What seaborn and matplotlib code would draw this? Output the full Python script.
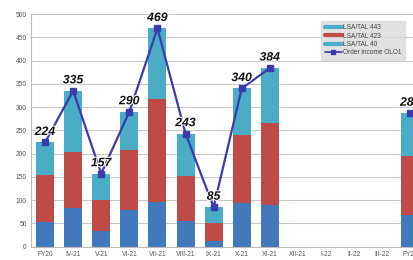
import numpy as np
import matplotlib
matplotlib.use("Agg")
import matplotlib.pyplot as plt
import matplotlib.patheffects as pe
from matplotlib.lines import Line2D
import seaborn as sns

categories = ["FY20", "IV-21", "V-21", "VI-21", "VII-21", "VIII-21", "IX-21",
              "X-21", "XI-21", "XII-21", "I-22", "II-22", "III-22", "FY22"]
lsa_40 = [54, 84, 34, 79, 96, 56, 12, 93, 90, 0, 0, 0, 0, 68]
lsa_423 = [99, 119, 66, 129, 221, 95, 38, 146, 175, 0, 0, 0, 0, 126]
lsa_443 = [71, 132, 57, 82, 152, 92, 35, 101, 119, 0, 0, 0, 0, 93]
order_income = [224, 335, 157, 290, 469, 243, 85, 340, 384,
                np.nan, np.nan, np.nan, np.nan, 287]
series_names = ["LSA/TAL 443", "LSA/TAL 423", "LSA/TAL 40", "Order income OLO1"]

c_blue = "#4279BD"
c_red = "#BE4B48"
c_teal = "#4BACC6"
c_line = "#3B3BAE"

sns.set_theme(style="white")
plt.rcParams["font.family"] = ["Liberation Sans", "DejaVu Sans"]

fig = plt.figure(figsize=(4.14, 2.6), dpi=100)
ax = fig.add_axes([31 / 414, 13.3 / 260, (414 - 31) / 414, 232.7 / 260])

lvl1 = np.array(lsa_40)
lvl2 = lvl1 + np.array(lsa_423)
lvl3 = lvl2 + np.array(lsa_443)

w = 0.64
sns.barplot(x=categories, y=lvl3, color=c_teal, width=w, saturation=1, ax=ax, order=categories)
sns.barplot(x=categories, y=lvl2, color=c_red, width=w, saturation=1, ax=ax, order=categories)
sns.barplot(x=categories, y=lvl1, color=c_blue, width=w, saturation=1, ax=ax, order=categories)
for p in ax.patches:
    p.set_edgecolor("none")

xs = np.arange(len(categories))
ax.plot(xs, order_income, color=c_line, lw=1.6, marker="s", ms=4, zorder=5)

for x, v in zip(xs, order_income):
    if np.isnan(v):
        continue
    ax.annotate(f"{int(v)}", (x, v), xytext=(0, 7.5), textcoords="offset points",
                ha="center", va="center", fontsize=8.8, fontweight="bold",
                fontstyle="italic", color="#111111", zorder=6,
                path_effects=[pe.withStroke(linewidth=1.5, foreground="white")])

ax.set_ylim(0, 500)
ax.set_xlim(-0.5, 13.13)
ax.set_yticks(range(0, 501, 50))
ax.yaxis.grid(True, color="#C8C8C8", lw=0.8)
ax.set_axisbelow(True)
for s in ["top", "right"]:
    ax.spines[s].set_visible(False)
ax.spines["left"].set_color("#BBBBBB")
ax.spines["left"].set_linewidth(0.8)
ax.spines["bottom"].set_color("#BBBBBB")
ax.spines["bottom"].set_linewidth(0.8)
ax.tick_params(axis="both", labelsize=4.8, colors="#555555", length=0, pad=3)
ax.set_xlabel("")
ax.set_ylabel("")

handles = [
    Line2D([], [], color=c_teal, lw=3),
    Line2D([], [], color=c_red, lw=3),
    Line2D([], [], color=c_teal, lw=3),
    Line2D([], [], color=c_line, lw=1.2, marker="s", ms=2.5),
]
leg = ax.legend(handles, series_names, loc="upper right", bbox_to_anchor=(0.985, 0.985),
                fontsize=4.7, frameon=True, fancybox=False, handlelength=2.6,
                labelspacing=0.2, borderpad=0.55, handletextpad=0.2)
leg.get_frame().set_facecolor("#DADADA")
leg.get_frame().set_edgecolor("#DADADA")
for t in leg.get_texts():
    t.set_color("#444444")

fig.savefig("out.png", dpi=100)
